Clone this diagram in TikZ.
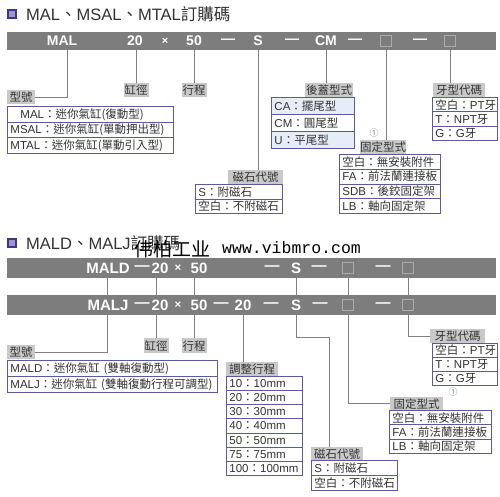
\documentclass[tikz,border=0pt]{standalone}
\usepackage{fontspec}
\setmainfont{Noto Sans CJK TC}
\newfontfamily\lat{Liberation Sans}
\newfontfamily\scfont{Noto Sans CJK SC}
\newfontfamily\monof{Liberation Mono}
\definecolor{barc}{HTML}{7D7D7D}
\definecolor{lblc}{HTML}{C9C9C9}
\definecolor{tblc}{HTML}{5B5A9E}
\definecolor{linec}{HTML}{808080}
\definecolor{txtc}{HTML}{333333}
\definecolor{sqc}{HTML}{ABABAB}
\definecolor{hil}{HTML}{E6EDF8}
\tikzset{
  barbox/.style={fill=barc, draw=none, anchor=north west, inner sep=0pt, minimum width=489pt},
  bartxt/.style={text=white, font=\lat\bfseries\fontsize{14}{14}\selectfont, inner sep=0pt},
  bartxtb/.style={text=white, font=\lat\bfseries\fontsize{15}{15}\selectfont, inner sep=0pt},
  sqbox/.style={draw=sqc, line width=0.8pt, minimum size=11pt, inner sep=0pt},
  lbl/.style={fill=lblc, inner sep=0pt, anchor=north west, text=txtc, font=\fontsize{11.5}{12}\selectfont, minimum height=14pt},
  trow/.style={draw=tblc, line width=0.9pt, fill=white, anchor=north west, inner xsep=3pt, inner ysep=0pt, align=left, text=txtc, font=\fontsize{11.5}{12}\selectfont},
  conn/.style={draw=linec, line width=0.9pt},
  icon/.style={draw=HTML3F3590, fill=HTML9A95CC, line width=1.6pt, minimum size=8pt, inner sep=0pt},
  ttl/.style={anchor=west, text=txtc, font=\fontsize{16.5}{17}\selectfont, inner sep=0pt},
  circ/.style={text=linec, font=\fontsize{9}{9}\selectfont, inner sep=0pt}
}
\definecolor{HTML3F3590}{HTML}{3F3590}
\definecolor{HTML9A95CC}{HTML}{9A95CC}
\newcommand\mytable[6]{%
  \foreach \t [count=\i] in {#6} {\node[trow, text width=#4pt, minimum height=#5pt] (#1-\i) at ({#2},{#3+(\i-1)*#5}) {\t};}}
\begin{document}
\begin{tikzpicture}[x=1pt,y=-1pt]
\useasboundingbox[fill=white] (0,0) rectangle (500,496);

% ---------- Section 1 ----------
\node[icon] (ic1) at (12,14) {};
\node[ttl] (t1) at (26,14) {{\lat MAL}、{\lat MSAL}、{\lat MTAL}訂購碼};

\node[barbox, minimum height=18pt] (bar1) at (7,32) {};
\node[bartxt] (aMAL) at (62,41) {MAL};
\node[bartxt] (a20) at (135,41) {20};
\node[bartxt, font=\lat\bfseries\fontsize{11}{11}\selectfont] (ax) at (165,41) {×};
\node[bartxt] (a50) at (194,41) {50};
\node[bartxt] (ad1) at (228,41) {—};
\node[bartxt] (aS) at (258,41) {S};
\node[bartxt] (ad2) at (292,41) {—};
\node[bartxt] (aCM) at (326,41) {CM};
\node[bartxt] (ad3) at (355,41) {—};
\node[sqbox] (aq1) at (386,41) {};
\node[bartxt] (ad4) at (420,41) {—};
\node[sqbox] (aq2) at (450,41) {};

\node[lbl, minimum width=28pt] (lA1) at (7,90) {型號};
\node[lbl, minimum width=25pt] (lA2) at (123.5,83) {缸徑};
\node[lbl, minimum width=25pt] (lA3) at (181.5,83) {行程};
\node[lbl, minimum width=55pt] (lA4) at (228,170) {磁石代號};
\node[lbl, minimum width=48pt] (lA5) at (305,83) {後蓋型式};
\node[lbl, minimum width=44pt] (lA6) at (360,140) {固定型式};
\node[lbl, minimum width=52pt] (lA7) at (433,83) {牙型代碼};
\node[circ] (c1) at (374,133) {①};

\coordinate (k1) at (67,0);
\draw[conn] (lA1.east) -| (k1 |- bar1.south);
\draw[conn] (lA2.north) -- (lA2.north |- bar1.south);
\draw[conn] (lA3.north) -- (lA3.north |- bar1.south);
\draw[conn] (aS |- bar1.south) -- (aS |- lA4.north);
\draw[conn] (aCM |- bar1.south) -- (aCM |- lA5.north);
\draw[conn] (aq1 |- bar1.south) -- (aq1 |- lA6.north);
\draw[conn] (aq2 |- bar1.south) -- (aq2 |- lA7.north);

\mytable{tA}{7}{106}{160}{15.67}{{\hspace*{10pt}{\lat MAL}：迷你氣缸(復動型)},{{\lat MSAL}：迷你氣缸(單動押出型)},{{\lat MTAL}：迷你氣缸(單動引入型)}}
\mytable{tB}{195}{184}{81}{14.5}{{{\lat S}：附磁石},{空白：不附磁石}}
\node[trow, fill=hil, text width=77pt, minimum height=17pt] (tC-1) at (271,97) {{\lat CA}：擺尾型};
\node[trow, text width=77pt, minimum height=17pt] (tC-2) at (271,114) {{\lat CM}：圓尾型};
\node[trow, fill=hil, text width=77pt, minimum height=17pt] (tC-3) at (271,131) {{\lat U}：平尾型};
\mytable{tD}{339}{154}{95}{14.75}{{空白：無安裝附件},{{\lat FA}：前法蘭連接板},{{\lat SDB}：後鉸固定架},{{\lat LB}：軸向固定架}}
\mytable{tE}{432}{97}{59}{14.33}{{空白：{\lat PT}牙},{{\lat T}：{\lat NPT}牙},{{\lat G}：{\lat G}牙}}

% ---------- Section 2 ----------
\node[icon] (ic2) at (12,243) {};
\node[ttl] (t2) at (26,243) {{\lat MALD}、{\lat MALJ}訂購碼};
\node[anchor=west, inner sep=0pt, font=\scfont\fontsize{19}{19}\selectfont] (wm1) at (134,249) {伟柏工业};
\node[anchor=base west, inner sep=0pt, font=\monof\fontsize{16.5}{16.5}\selectfont] (wm2) at (222,253) {www.vibmro.com};

\node[barbox, minimum height=20pt] (bar2a) at (7,258) {};
\node[barbox, minimum height=20pt] (bar2b) at (7,295) {};

\node[bartxtb] (bMALD) at (108,268) {MALD};
\node[bartxtb] (bd1) at (142,268) {—};
\node[bartxtb] (b20) at (160,268) {20};
\node[bartxtb, font=\lat\bfseries\fontsize{11.5}{11.5}\selectfont] (bx) at (178,268) {×};
\node[bartxtb] (b50) at (199,268) {50};
\node[bartxtb] (bd2) at (272,268) {—};
\node[bartxtb] (bS) at (296,268) {S};
\node[bartxtb] (bd3) at (319,268) {—};
\node[sqbox] (bq1) at (348,268) {};
\node[bartxtb] (bd4) at (383,268) {—};
\node[sqbox] (bq2) at (408,268) {};

\node[bartxtb] (cMALJ) at (108,305) {MALJ};
\node[bartxtb] (cd1) at (142,305) {—};
\node[bartxtb] (c20) at (160,305) {20};
\node[bartxtb, font=\lat\bfseries\fontsize{11.5}{11.5}\selectfont] (cx) at (178,305) {×};
\node[bartxtb] (c50) at (199,305) {50};
\node[bartxtb] (cd2) at (221,305) {—};
\node[bartxtb] (c20b) at (243,305) {20};
\node[bartxtb] (cd3) at (271,305) {—};
\node[bartxtb] (cS) at (296,305) {S};
\node[bartxtb] (cd4) at (320,305) {—};
\node[sqbox] (cq1) at (348,305) {};
\node[bartxtb] (cd5) at (383,305) {—};
\node[sqbox] (cq2) at (408,305) {};

\node[lbl, minimum width=28pt] (lB1) at (7,345) {型號};
\node[lbl, minimum width=25pt, minimum height=15pt] (lB2) at (143.5,338) {缸徑};
\node[lbl, minimum width=25pt, minimum height=15pt] (lB3) at (181.5,338) {行程};
\node[lbl, minimum width=52pt] (lB4) at (226,362) {調整行程};
\node[lbl, minimum width=52pt, minimum height=13pt] (lB5) at (311,447) {磁石代號};
\node[lbl, minimum width=53pt, minimum height=13pt] (lB6) at (390,397) {固定型式};
\node[lbl, minimum width=55pt] (lB7) at (430,329) {牙型代碼};
\node[circ] (c2) at (453,392) {①};

\coordinate (m1) at (107,0);
\coordinate (m5) at (329,337);
\draw[conn] (m1 |- bar2a.south) -- (m1 |- bar2b.north);
\draw[conn] (lB2.north |- bar2a.south) -- (lB2.north |- bar2b.north);
\draw[conn] (lB3.north |- bar2a.south) -- (lB3.north |- bar2b.north);
\draw[conn] (bS |- bar2a.south) -- (bS |- bar2b.north);
\draw[conn] (bq1 |- bar2a.south) -- (bq1 |- bar2b.north);
\draw[conn] (bq2 |- bar2a.south) -- (bq2 |- bar2b.north);

\draw[conn] (lB1.east) -| (m1 |- bar2b.south);
\draw[conn] (lB2.north) -- (lB2.north |- bar2b.south);
\draw[conn] (lB3.north) -- (lB3.north |- bar2b.south);
\draw[conn] (c20b |- bar2b.south) -- (c20b |- lB4.north);
\draw[conn] (cS |- bar2b.south) |- (m5) -- (m5 |- lB5.north);
\draw[conn] (cq1 |- bar2b.south) |- (lB6.west);
\draw[conn] (cq2 |- bar2b.south) |- (lB7.west);

\mytable{tF}{7}{360}{204}{16}{{{\lat MALD}：迷你氣缸~(雙軸復動型)},{{\lat MALJ}：迷你氣缸~(雙軸復動行程可調型)}}
\mytable{tG}{226}{376}{70}{14.14}{{{\lat 10}：{\lat 10mm}},{{\lat 20}：{\lat 20mm}},{{\lat 30}：{\lat 30mm}},{{\lat 40}：{\lat 40mm}},{{\lat 50}：{\lat 50mm}},{{\lat 75}：{\lat 75mm}},{{\lat 100}：{\lat 100mm}}}
\mytable{tH}{311}{460}{80}{15}{{{\lat S}：附磁石},{空白：不附磁石}}
\mytable{tI}{389}{410}{96}{14.33}{{空白：無安裝附件},{{\lat FA}：前法蘭連接板},{{\lat LB}：軸向固定架}}
\mytable{tJ}{432}{343}{59}{14}{{空白：{\lat PT}牙},{{\lat T}：{\lat NPT}牙},{{\lat G}：{\lat G}牙}}
\end{tikzpicture}
\end{document}
